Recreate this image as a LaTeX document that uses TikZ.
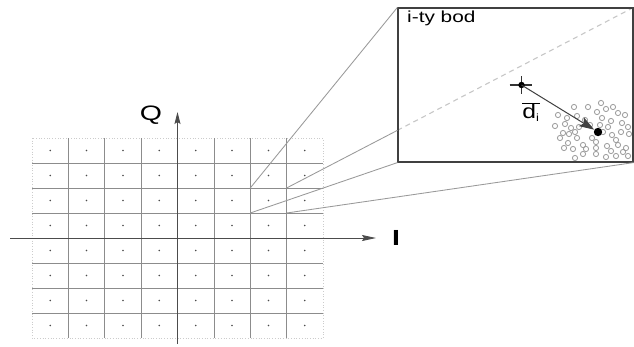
\documentclass[tikz,border=0pt]{standalone}
\usepackage{fontspec}
\usepackage{graphicx}
\setmainfont{Liberation Sans}
\usetikzlibrary{arrows.meta,calc}
\begin{document}
\begin{tikzpicture}[x=1pt,y=-1pt,
  gridline/.style={draw=black!45,line width=0.75pt},
  border/.style={draw=black!20,line width=0.7pt,dotted},
  axis/.style={draw=black!70,line width=0.9pt},
  connector/.style={draw=black!40,line width=0.85pt},
  lbl/.style={inner sep=0pt,font=\fontsize{18}{20}\selectfont},
  scat/.style={draw=black!40,line width=0.8pt},
  insetbox/.style={draw=black!75,line width=1.2pt,minimum width=235pt,minimum height=154pt,inner sep=0pt}]
\useasboundingbox (0,0) rectangle (634,346);
\fill[white] (0,0) rectangle (634,346);
% grid
\draw[border] (32,138) rectangle (323,338);
\foreach \i in {1,...,7}{
  \draw[gridline] (32+36.375*\i,138) -- (32+36.375*\i,338);
  \draw[gridline] (32,138+25*\i) -- (323,138+25*\i);
}
\foreach \i in {0,...,7}{
  \foreach \j in {0,...,7}{
    \fill[black!70] (32+36.375*\i+18.19,138+25*\j+12.5) circle (0.9);
  }
}
% axes
\node[lbl] (Q) at (151,115) {\scalebox{1.5}[1.1]{\fontsize{19}{20}\selectfont Q}};
\node[lbl] (I) at (396,238) {\scalebox{1.5}[1.15]{\fontsize{19}{20}\selectfont\bfseries I}};
\coordinate (xs) at (10,238);
\coordinate (xe) at (376,238);
\coordinate (ys) at (177.5,344);
\coordinate (ye) at (177.5,112);
\draw[axis,-{Stealth[length=14pt,width=6pt,inset=2pt]}] (xs) -- (xe);
\draw[axis,-{Stealth[length=12pt,width=6pt,inset=2pt]}] (ys) -- (ye);
% inset box
\node[insetbox] (inset) at (515.5,85) {};
\coordinate (c1) at (250.25,188);
\coordinate (c2) at (286.6,188);
\coordinate (c3) at (250.25,213);
\coordinate (c4) at (286.6,213);
\coordinate (e2) at (intersection of c2--inset.north east and inset.north west--inset.south west);
\draw[connector] (c1) -- (inset.north west);
\draw[connector] (c2) -- (e2);
\draw[connector] (c3) -- (inset.south west);
\draw[connector] (c4) -- (inset.south east);
\begin{scope}
\clip (399,9) rectangle (632.5,161);
\draw[black!22,line width=1.1pt,dash pattern=on 5pt off 4pt] (e2) -- (inset.north east);
\foreach \px/\py in {574/107,588/107,597/112,606/109,613/107,618/113,625/115,
  558/115,567/118,577/116,585/120,602/118,611/121,622/123,628/127,
  555/126,565/124,571/128,579/127,590/125,600/125,608/127,
  563/133,569/134,575/132,603/132,612/135,621/132,629/134,
  560/138,577/138,592/138,616/140,
  568/143,583/145,596/142,607/146,618/145,626/148,
  573/149,586/149,596/148,611/151,623/152,
  575/158,583/154,596/154,606/157,616/156,628/156,601/103,564/148}{
  \draw[scat] (\px,\py) circle (2.6);
}
\end{scope}
\node[lbl,anchor=west] (title) at (407,18) {\scalebox{1.3}[1]{\fontsize{16}{18}\selectfont i-ty bod}};
% crosshair and distance arrow
\coordinate (p) at (521.5,85);
\coordinate (q) at (598,132);
\draw[black!80,line width=1.1pt] (p) ++(-12,0) -- ++(22,0);
\draw[black!80,line width=1.1pt] (p) ++(0,-9) -- ++(0,18);
\fill[black] (p) circle (3.2);
\fill[black] (q) circle (4.2);
\draw[black!75,line width=1pt,-{Stealth[length=15pt,width=10pt,inset=3pt]}] (p) -- ($(q)!0.05!(p)$);
\node[lbl] (d) at (531,112) {\scalebox{1.3}[1.05]{\fontsize{19}{20}\selectfont$\overline{\mbox{d}_{\mbox{\fontsize{10}{11}\selectfont i}}}$}};
\end{tikzpicture}
\end{document}
